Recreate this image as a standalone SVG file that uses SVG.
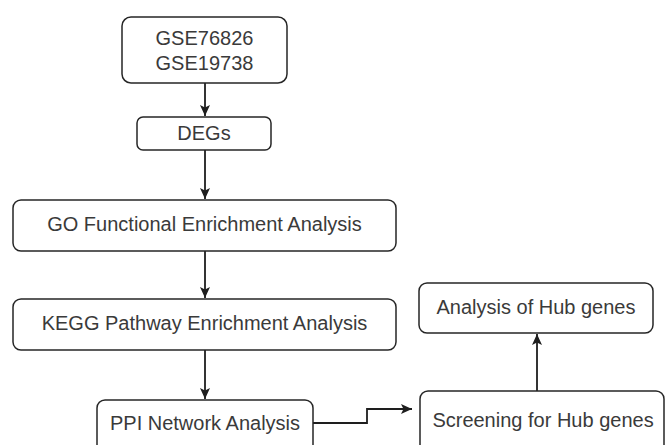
<svg xmlns="http://www.w3.org/2000/svg" width="665" height="445" viewBox="0 0 665 445">
  <style>
    .box { fill: #ffffff; stroke: #262626; stroke-width: 1.5; }
    .lbl { font-family: "Liberation Sans", Arial, sans-serif; font-size: 20px; fill: #3a3a3a; text-anchor: middle; }
    .edge { fill: none; stroke: #1e1e1e; stroke-width: 1.8; }
  </style>
  <defs>
    <marker id="arrow" markerUnits="userSpaceOnUse" markerWidth="12" markerHeight="12" viewBox="0 0 12 12" refX="11" refY="6" orient="auto">
      <path d="M0,1 L11,6 L0,11 L2.5,6 Z" fill="#1e1e1e"/>
    </marker>
  </defs>
  <rect width="665" height="445" fill="#ffffff"/>

  <g id="connectors">
    <line class="edge" x1="205" y1="83" x2="205" y2="116" marker-end="url(#arrow)"/>
    <line class="edge" x1="205" y1="150" x2="205" y2="199" marker-end="url(#arrow)"/>
    <line class="edge" x1="205" y1="251" x2="205" y2="298" marker-end="url(#arrow)"/>
    <line class="edge" x1="205" y1="350" x2="205" y2="399" marker-end="url(#arrow)"/>
    <polyline class="edge" points="313,423 367,423 367,409 412,409" marker-end="url(#arrow)"/>
    <line class="edge" x1="537" y1="391" x2="537" y2="334" marker-end="url(#arrow)"/>
  </g>

  <g id="node-gse">
    <rect class="box" x="122" y="17" width="165" height="66" rx="9"/>
    <text class="lbl" x="204.5" y="45">GSE76826</text>
    <text class="lbl" x="204.5" y="70">GSE19738</text>
  </g>
  <g id="node-degs">
    <rect class="box" x="137" y="117" width="134" height="33" rx="6"/>
    <text class="lbl" x="204" y="140">DEGs</text>
  </g>
  <g id="node-go">
    <rect class="box" x="13" y="200" width="383" height="51" rx="8"/>
    <text class="lbl" x="204.5" y="231">GO Functional Enrichment Analysis</text>
  </g>
  <g id="node-kegg">
    <rect class="box" x="13" y="299" width="383" height="51" rx="8"/>
    <text class="lbl" x="204.5" y="330">KEGG Pathway Enrichment Analysis</text>
  </g>
  <g id="node-ppi">
    <rect class="box" x="97" y="400" width="216" height="60" rx="8"/>
    <text class="lbl" x="205" y="430">PPI Network Analysis</text>
  </g>
  <g id="node-screening">
    <rect class="box" x="420" y="391" width="244" height="70" rx="8"/>
    <text class="lbl" x="543" y="427">Screening for Hub genes</text>
  </g>
  <g id="node-analysis">
    <rect class="box" x="419" y="283" width="234" height="50" rx="8"/>
    <text class="lbl" x="536" y="314">Analysis of Hub genes</text>
  </g>
</svg>
